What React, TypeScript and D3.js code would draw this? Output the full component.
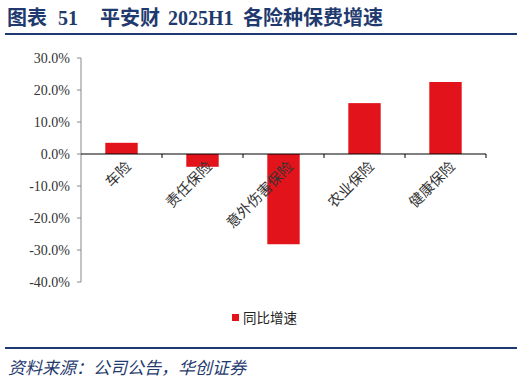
import React from "react";
import * as d3 from "d3";

const categories = ["车险", "责任保险", "意外伤害保险", "农业保险", "健康保险"];
const growth = [3.5, -4.0, -28.2, 15.9, 22.5];
const yTicks = [30, 20, 10, 0, -10, -20, -30, -40];
const seriesName = "同比增速";
const titleParts = [
  { t: "图表", x: 7 },
  { t: "51", x: 58 },
  { t: "平安财", x: 100 },
  { t: "2025H1", x: 168 },
  { t: "各险种保费增速", x: 243 },
];
const source = "资料来源：公司公告，华创证券";

export default function App() {
  const W = 524, H = 382;
  const left = 81, right = 486, top = 58, bottom = 282;
  const x = d3.scaleBand<string>().domain(categories).range([left, right]).paddingInner(0.6).paddingOuter(0.3);
  const xb = d3.scaleBand<string>().domain(categories).range([left, right]);
  const y = d3.scaleLinear().domain([-40, 30]).range([bottom, top]);
  const navy = "#1f3a6e";
  const red = "#e3131b";
  const serif = "'Liberation Serif', 'Noto Sans CJK SC', serif";
  return (
    <svg width={W} height={H} style={{ position: "absolute", left: 0, top: 0 }}>
      <rect width={W} height={H} fill="#fff" />
      {titleParts.map((p) => (
        <text key={p.t} x={p.x} y={25} fontFamily={serif} fontWeight="bold" fontSize={20} fill={navy}>{p.t}</text>
      ))}
      <line x1={5} x2={517} y1={34} y2={34} stroke={navy} strokeWidth={2} />
      {/* y axis */}
      <line x1={left} x2={left} y1={top} y2={bottom} stroke="#888" strokeWidth={1} />
      {yTicks.map((t) => (
        <g key={t}>
          <line x1={left - 4} x2={left} y1={y(t)} y2={y(t)} stroke="#888" />
          <text x={left - 11} y={y(t)} dy="0.35em" textAnchor="end" fontFamily={serif} fontSize={14} fill="#333">{t.toFixed(1) + "%"}</text>
        </g>
      ))}
      {/* bars */}
      {categories.map((c, i) => (
        <rect key={c} x={x(c)} width={x.bandwidth()} y={y(Math.max(0, growth[i]))} height={Math.abs(y(growth[i]) - y(0))} fill={red} />
      ))}
      {/* x axis */}
      <line x1={left} x2={right} y1={y(0)} y2={y(0)} stroke="#000" strokeWidth={1} />
      {categories.map((c, i) => (
        <line key={"t" + i} x1={(xb(c) as number) + xb.bandwidth()} x2={(xb(c) as number) + xb.bandwidth()} y1={y(0)} y2={y(0) + 4} stroke="#000" />
      ))}
      {categories.map((c) => {
        const cx = (xb(c) as number) + xb.bandwidth() / 2 + 7;
        const cy = y(0) + 10;
        return (
          <text key={"l" + c} transform={`translate(${cx},${cy}) rotate(-45)`} textAnchor="end" dy="0.35em" fontFamily={serif} fontSize={14.5} fill="#333">{c}</text>
        );
      })}
      {/* legend */}
      <rect x={232} y={314} width={7} height={7} fill={red} />
      <text x={243} y={318} dy="0.35em" fontFamily={serif} fontSize={13.5} fill="#222">{seriesName}</text>
      <line x1={5} x2={517} y1={348} y2={348} stroke={navy} strokeWidth={2} />
      <text x={8} y={374} fontFamily={serif} fontStyle="italic" fontSize={17} fill={navy}>{source}</text>
    </svg>
  );
}
